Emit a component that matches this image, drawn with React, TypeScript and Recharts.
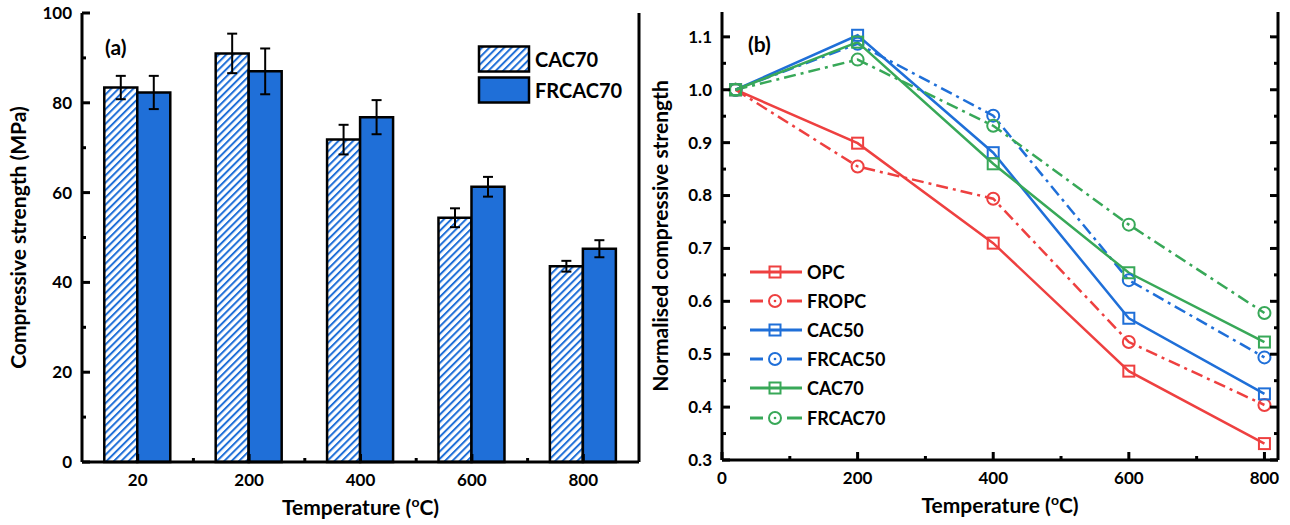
import React from 'react';
import { BarChart, Bar, ErrorBar, LineChart, Line, XAxis, YAxis, Legend } from 'recharts';

// (a) compressive strength, MPa
const temps = ['20', '200', '400', '600', '800'];
const cac70 = [83.4, 91.0, 71.8, 54.4, 43.6];
const cac70Err = [2.6, 4.4, 3.3, 2.1, 1.2];
const frcac70 = [82.3, 87.0, 76.8, 61.3, 47.5];
const frcac70Err = [3.7, 5.1, 3.8, 2.2, 1.9];
const barTicks = [0, 10, 20, 30, 40, 50, 60, 70, 80, 90, 100];

// (b) normalised strength
const tempValues = [20, 200, 400, 600, 800];
const opc = [1.0, 0.899, 0.71, 0.468, 0.331];
const fropc = [1.0, 0.855, 0.794, 0.523, 0.404];
const cac50 = [1.0, 1.103, 0.881, 0.568, 0.425];
const frcac50 = [1.0, 1.087, 0.951, 0.64, 0.494];
const cac70n = [1.0, 1.09, 0.86, 0.654, 0.523];
const frcac70n = [1.0, 1.057, 0.932, 0.745, 0.578];
const lineXTicks = [0, 100, 200, 300, 400, 500, 600, 700, 800];
const lineYTicks = [0.3, 0.35, 0.4, 0.45, 0.5, 0.55, 0.6, 0.65, 0.7, 0.75, 0.8, 0.85, 0.9, 0.95, 1.0, 1.05, 1.1];

const barData = temps.map((t, i) => ({
  temp: t,
  cac70: cac70[i],
  cac70Err: cac70Err[i],
  frcac70: frcac70[i],
  frcac70Err: frcac70Err[i],
}));

const lineData = tempValues.map((t, i) => ({
  temp: t,
  opc: opc[i],
  fropc: fropc[i],
  cac50: cac50[i],
  frcac50: frcac50[i],
  cac70: cac70n[i],
  frcac70: frcac70n[i],
}));

const RED = '#EE4040';
const BLUE = '#1F6FD8';
const GREEN = '#38A858';
const FONT = 'Lato, "Open Sans", sans-serif';
const DASH = '12 5 3 5';

const lineSeries = [
  { key: 'opc', name: 'OPC', color: RED, dashed: false },
  { key: 'fropc', name: 'FROPC', color: RED, dashed: true },
  { key: 'cac50', name: 'CAC50', color: BLUE, dashed: false },
  { key: 'frcac50', name: 'FRCAC50', color: BLUE, dashed: true },
  { key: 'cac70', name: 'CAC70', color: GREEN, dashed: false },
  { key: 'frcac70', name: 'FRCAC70', color: GREEN, dashed: true },
];

const M = 10; // tick margin
const txt = { fontFamily: FONT, fontWeight: 700, fill: '#000' } as const;

// y-axis ticks drawn inward, labels only on left side
const yTick = (side: 'left' | 'right', isMajor: (v: number) => boolean, fmt: (v: number) => string) => (p: any) => {
  const v = p.payload.value;
  const major = isMajor(v);
  const ax = side === 'left' ? p.x + M : p.x - M;
  const dir = side === 'left' ? 1 : -1;
  return (
    <g>
      <line x1={ax} x2={ax + dir * (major ? 8 : 4)} y1={p.y} y2={p.y} stroke="#000" strokeWidth={3} />
      {side === 'left' && major && (
        <text {...txt} x={p.x} y={p.y} dy="0.35em" textAnchor="end" fontSize={17}>
          {fmt(v)}
        </text>
      )}
    </g>
  );
};

// x-axis ticks for numeric axis
const xTick = (side: 'bottom' | 'top', isMajor: (v: number) => boolean) => (p: any) => {
  const v = p.payload.value;
  const major = isMajor(v);
  const ay = side === 'bottom' ? p.y - M : p.y + M;
  const dir = side === 'bottom' ? -1 : 1;
  return (
    <g>
      <line x1={p.x} x2={p.x} y1={ay} y2={ay + dir * (major ? 8 : 4)} stroke="#000" strokeWidth={3} />
      {side === 'bottom' && major && (
        <text {...txt} x={p.x} y={ay + 18} dy="0.35em" textAnchor="middle" fontSize={17}>
          {v}
        </text>
      )}
    </g>
  );
};

// category axis: major at centres, minor at band boundaries
const catTick = (side: 'bottom' | 'top') => (p: any) => {
  const off = p.payload.offset ?? 55.7;
  const ay = side === 'bottom' ? p.y - M : p.y + M;
  const dir = side === 'bottom' ? -1 : 1;
  return (
    <g>
      <line x1={p.x} x2={p.x} y1={ay} y2={ay + dir * 8} stroke="#000" strokeWidth={3} />
      {p.index < temps.length - 1 && (
        <line x1={p.x + off} x2={p.x + off} y1={ay} y2={ay + dir * 4} stroke="#000" strokeWidth={3} />
      )}
      {side === 'bottom' && (
        <text {...txt} x={p.x} y={ay + 18} dy="0.35em" textAnchor="middle" fontSize={17}>
          {p.payload.value}
        </text>
      )}
    </g>
  );
};

const xTitle = (props: any) => {
  const vb = props.viewBox;
  return (
    <text {...txt} x={vb.x + vb.width / 2} y={vb.y + 46} dy="0.35em" textAnchor="middle" fontSize={21}>
      Temperature (<tspan dy={-8} fontSize={14}>o</tspan>
      <tspan dy={8}>C)</tspan>
    </text>
  );
};

const yTitle = (text: string, dx: number) => (props: any) => {
  const vb = props.viewBox;
  const cx = vb.x + dx;
  const cy = vb.y + vb.height / 2;
  return (
    <text {...txt} x={cx} y={cy} dy="0.35em" textAnchor="middle" fontSize={21} transform={`rotate(-90 ${cx} ${cy})`}>
      {text}
    </text>
  );
};

const Hatch = ({ id }: { id: string }) => (
  <pattern id={id} patternUnits="userSpaceOnUse" width={5.2} height={5.2} patternTransform="rotate(45)">
    <rect width={5.2} height={5.2} fill="#fff" />
    <rect width={2} height={5.2} fill={BLUE} />
  </pattern>
);

const BarLegend = () => (
  <div style={{ fontFamily: FONT, fontWeight: 700, fontSize: 20 }}>
    {[
      { name: 'CAC70', fill: 'url(#hatchLeg)' },
      { name: 'FRCAC70', fill: BLUE },
    ].map((r, i) => (
      <div key={r.name} style={{ display: 'flex', alignItems: 'center', height: 31 }}>
        <svg width={56} height={28}>
          {i === 0 && (
            <defs>
              <Hatch id="hatchLeg" />
            </defs>
          )}
          <rect x={3} y={1.5} width={50} height={25} fill={r.fill} stroke="#000" strokeWidth={2.5} />
        </svg>
        <span style={{ marginLeft: 3 }}>{r.name}</span>
      </div>
    ))}
  </div>
);

const Marker = ({ cx, cy, color, square }: { cx: number; cy: number; color: string; square: boolean }) =>
  square ? (
    <rect x={cx - 5.5} y={cy - 5.5} width={11} height={11} fill="none" stroke={color} strokeWidth={2} />
  ) : (
    <circle cx={cx} cy={cy} r={6} fill="none" stroke={color} strokeWidth={2} />
  );

const LineLegend = () => (
  <div style={{ fontFamily: FONT, fontWeight: 700, fontSize: 18 }}>
    {lineSeries.map((s) => (
      <div key={s.key} style={{ display: 'flex', alignItems: 'center', height: 29.2 }}>
        <svg width={56} height={20}>
          {s.dashed ? (
            <g>
              <line x1={4} x2={17} y1={10} y2={10} stroke={s.color} strokeWidth={3} />
              <line x1={41} x2={56} y1={10} y2={10} stroke={s.color} strokeWidth={3} />
              <circle cx={29} cy={10} r={1.3} fill={s.color} />
            </g>
          ) : (
            <line x1={4} x2={56} y1={10} y2={10} stroke={s.color} strokeWidth={3} />
          )}
          <Marker cx={29} cy={10} color={s.color} square={!s.dashed} />
        </svg>
        <span style={{ marginLeft: 5 }}>{s.name}</span>
      </div>
    ))}
  </div>
);

const panelLabel = (text: string, left: number, top: number) => (
  <div
    style={{ position: 'absolute', left, top, fontFamily: FONT, fontWeight: 700, fontSize: 21, lineHeight: '24px' }}
  >
    {text}
  </div>
);

const axisLine = { stroke: '#000', strokeWidth: 3 };

export default function App() {
  return (
    <div style={{ position: 'absolute', left: 0, top: 0, width: 1290, height: 525, background: '#fff' }}>
      <div style={{ position: 'absolute', left: 0, top: 0 }}>
        <BarChart
          width={645}
          height={525}
          data={barData}
          margin={{ top: 13, right: 5, bottom: 0, left: 0 }}
          barCategoryGap="20%"
          barGap={0}
        >
          <defs>
            <Hatch id="hatchBar" />
          </defs>
          <XAxis
            dataKey="temp"
            height={63}
            axisLine={axisLine}
            tickLine={false}
            tickSize={0}
            tickMargin={M}
            interval={0}
            tick={catTick('bottom')}
            label={{ content: xTitle }}
          />
          <XAxis
            xAxisId="top"
            dataKey="temp"
            orientation="top"
            height={0}
            axisLine={axisLine}
            tickLine={false}
            tickSize={0}
            tickMargin={M}
            interval={0}
            tick={catTick('top')}
          />
          <YAxis
            type="number"
            domain={[0, 100]}
            ticks={barTicks}
            width={82}
            interval={0}
            axisLine={axisLine}
            tickLine={false}
            tickSize={0}
            tickMargin={M}
            tick={yTick('left', (v) => v % 20 === 0, (v) => String(v))}
            label={{ content: yTitle('Compressive strength (MPa)', 19) }}
          />
          <YAxis
            yAxisId="r"
            orientation="right"
            type="number"
            domain={[0, 100]}
            ticks={barTicks}
            width={1}
            interval={0}
            axisLine={axisLine}
            tickLine={false}
            tickSize={0}
            tickMargin={M}
            tick={yTick('right', (v) => v % 20 === 0, (v) => String(v))}
          />
          <Bar dataKey="cac70" name="CAC70" fill="url(#hatchBar)" stroke="#000" strokeWidth={2.5} isAnimationActive={false}>
            <ErrorBar dataKey="cac70Err" width={5} stroke="#000" strokeWidth={2} />
          </Bar>
          <Bar dataKey="frcac70" name="FRCAC70" fill={BLUE} stroke="#000" strokeWidth={2.5} isAnimationActive={false}>
            <ErrorBar dataKey="frcac70Err" width={5} stroke="#000" strokeWidth={2} />
          </Bar>
          <Legend
            layout="vertical"
            align="center"
            verticalAlign="middle"
            wrapperStyle={{ left: 476, top: 43, width: 160 }}
            content={() => <BarLegend />}
          />
        </BarChart>
        {panelLabel('(a)', 105, 35)}
      </div>

      <div style={{ position: 'absolute', left: 645, top: 0 }}>
        <LineChart width={645} height={525} data={lineData} margin={{ top: 12, right: 11, bottom: 0, left: 0 }}>
          <XAxis
            dataKey="temp"
            type="number"
            domain={[0, 820]}
            ticks={lineXTicks}
            height={65}
            interval={0}
            axisLine={axisLine}
            tickLine={false}
            tickSize={0}
            tickMargin={M}
            tick={xTick('bottom', (v) => v % 200 === 0)}
            label={{ content: xTitle }}
          />
          <XAxis
            xAxisId="top"
            dataKey="temp"
            type="number"
            orientation="top"
            domain={[0, 820]}
            ticks={lineXTicks}
            height={0}
            interval={0}
            axisLine={axisLine}
            tickLine={false}
            tickSize={0}
            tickMargin={M}
            tick={xTick('top', (v) => v % 200 === 0)}
          />
          <YAxis
            type="number"
            domain={[0.3, 1.147]}
            allowDataOverflow
            ticks={lineYTicks}
            width={77}
            interval={0}
            axisLine={axisLine}
            tickLine={false}
            tickSize={0}
            tickMargin={M}
            tick={yTick('left', (v) => Math.round(v * 100) % 10 === 0, (v) => v.toFixed(1))}
            label={{ content: yTitle('Normalised compressive strength', 16) }}
          />
          <YAxis
            yAxisId="r"
            orientation="right"
            type="number"
            domain={[0.3, 1.147]}
            allowDataOverflow
            ticks={lineYTicks}
            width={1}
            interval={0}
            axisLine={axisLine}
            tickLine={false}
            tickSize={0}
            tickMargin={M}
            tick={yTick('right', (v) => Math.round(v * 100) % 10 === 0, (v) => v.toFixed(1))}
          />
          {lineSeries.map((s) => (
            <Line
              key={s.key}
              dataKey={s.key}
              name={s.name}
              type="linear"
              stroke={s.color}
              strokeWidth={2.5}
              strokeDasharray={s.dashed ? DASH : undefined}
              isAnimationActive={false}
              activeDot={false}
              dot={(p: any) => <Marker key={`${s.key}-${p.index}`} cx={p.cx} cy={p.cy} color={s.color} square={!s.dashed} />}
            />
          ))}
          <Legend
            layout="vertical"
            align="center"
            verticalAlign="middle"
            wrapperStyle={{ left: 101, top: 257, width: 170 }}
            content={() => <LineLegend />}
          />
        </LineChart>
        {panelLabel('(b)', 103, 32)}
      </div>
    </div>
  );
}
